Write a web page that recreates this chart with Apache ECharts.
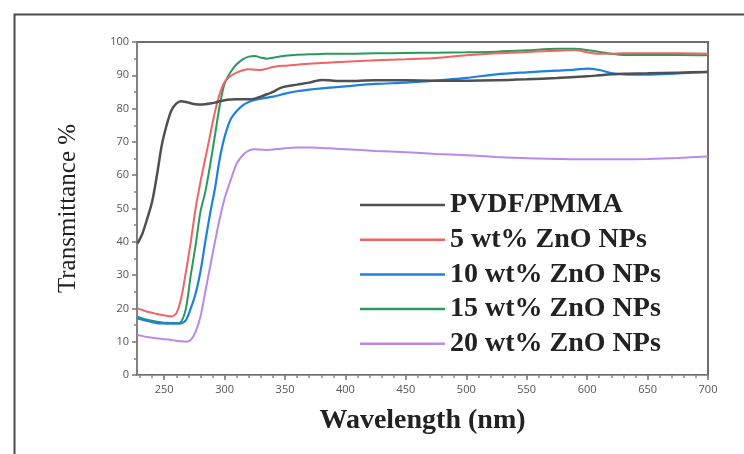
<!DOCTYPE html>
<html>
<head>
<meta charset="utf-8">
<script src="https://cdn.jsdelivr.net/npm/echarts@6/dist/echarts.min.js"></script>
<style>
html,body{margin:0;padding:0;background:#fff;}
#c{width:744px;height:454px;}
</style>
</head>
<body>
<div id="c"></div>
<script>
var wavelengths = [228,232,236,240,244,248,252,256,260,264,268,272,276,280,284,288,292,296,300,305,310,315,320,325,330,335,340,345,350,360,370,380,390,400,425,450,475,500,525,550,575,590,600,610,620,630,650,675,700];

var pvdfPmma = [39.5,42.5,47,52,60,69,75,79.5,81.5,82.2,82,81.6,81.3,81.2,81.3,81.5,81.8,82.2,82.5,82.7,82.8,82.8,82.8,83,83.6,84.3,85,86,86.6,87.2,87.8,88.6,88.4,88.3,88.5,88.5,88.4,88.4,88.5,88.8,89.2,89.5,89.7,90,90.3,90.5,90.6,90.8,91];

var zno5 = [20,19.5,19,18.7,18.3,18,17.8,17.6,18.5,23,31,40,50,58,65,72,79,84.5,88,89.8,90.8,91.5,91.8,91.7,91.6,92,92.5,92.8,92.9,93.2,93.5,93.7,93.9,94.1,94.5,94.8,95.2,96,96.6,97,97.4,97.6,96.9,96.5,96.5,96.6,96.6,96.6,96.5];

var zno10 = [17,16.6,16.2,15.9,15.6,15.5,15.4,15.4,15.4,15.5,16.5,20,24.5,31,40,48.5,56,65,71.5,76.8,79.3,81,82,82.6,83,83.3,83.6,84,84.5,85.2,85.7,86.1,86.4,86.7,87.4,87.8,88.4,89.2,90.3,90.9,91.4,91.7,92,91.6,90.7,90.3,90.2,90.6,91];

var zno15 = [17.5,17,16.6,16.3,16,15.8,15.7,15.6,15.6,16,20,30,39,49,55,63,72,81,87.5,91,93.3,94.8,95.6,95.8,95.3,95,95.3,95.6,95.9,96.2,96.3,96.4,96.5,96.5,96.6,96.7,96.8,96.9,97.1,97.5,98,98,97.6,97,96.5,96.1,96.1,96.1,96];

var zno20 = [12,11.7,11.4,11.2,11,10.8,10.7,10.5,10.3,10.1,10,10.5,13,17.5,25,32.5,40,47,53,58.5,63.5,66,67.4,67.8,67.7,67.6,67.7,67.9,68.1,68.3,68.3,68.2,68,67.8,67.3,66.9,66.4,66,65.5,65.1,64.9,64.8,64.8,64.8,64.8,64.8,64.9,65.2,65.6];

var seriesNames = ['PVDF/PMMA','5 wt% ZnO NPs','10 wt% ZnO NPs','15 wt% ZnO NPs','20 wt% ZnO NPs'];
var xTickLabels = [250,300,350,400,450,500,550,600,650,700];
var yTickLabels = [0,10,20,30,40,50,60,70,80,90,100];

var xMinor = [];
for (var v = 230; v <= 700; v += 10) xMinor.push(v);

function pairs(ys){ return wavelengths.map(function(x,i){ return [x, ys[i]]; }); }

var colors = ['#505050','#f06464','#1f80e0','#2a9a5c','#b98ae8'];
var widths = [2.5,2,2.2,2,2];
var allData = [pvdfPmma, zno5, zno10, zno15, zno20];

var chart = echarts.init(document.getElementById('c'), null, {renderer:'canvas'});
var tickFont = {fontFamily:'Open Sans', fontSize:11, color:'#555'};

chart.setOption({
  animation:false,
  backgroundColor:'#fff',
  graphic:[{
    type:'rect', left:12, top:12, silent:true,
    shape:{x:0,y:0,width:780,height:500},
    style:{fill:'none', stroke:'#4a4a4a', lineWidth:2}
  }],
  grid:{left:137, right:36, top:42, bottom:79, show:true, borderColor:'#6e6e6e', borderWidth:2, backgroundColor:'transparent'},
  legend:{
    orient:'vertical', left:355, top:185,
    icon:'rect', itemWidth:85, itemHeight:2.5, itemGap:4.7,
    data:seriesNames,
    textStyle:{fontFamily:'Liberation Serif', fontWeight:'bold', fontSize:28, lineHeight:30, color:'#222'}
  },
  xAxis:[{
    type:'value', min:227.5, max:700,
    name:'Wavelength (nm)', nameLocation:'middle', nameGap:32,
    nameTextStyle:{fontFamily:'Liberation Serif', fontWeight:'bold', fontSize:28, color:'#222'},
    axisLine:{show:true, lineStyle:{color:'#999', width:1}},
    axisTick:{show:true, customValues:xTickLabels, length:5, lineStyle:{color:'#777', width:1.5}},
    axisLabel:{customValues:xTickLabels, margin:9, fontFamily:tickFont.fontFamily, fontSize:tickFont.fontSize, color:tickFont.color},
    splitLine:{show:false}
  },{
    type:'value', min:227.5, max:700, position:'bottom',
    axisLine:{show:false},
    axisTick:{show:true, customValues:xMinor, length:3, lineStyle:{color:'#888', width:1.5}},
    axisLabel:{show:false},
    splitLine:{show:false}
  }],
  yAxis:{
    type:'value', min:0, max:100, interval:10,
    name:'Transmittance %', nameLocation:'middle', nameGap:56,
    nameTextStyle:{fontFamily:'Liberation Serif', fontSize:25, color:'#222'},
    axisLine:{show:true, lineStyle:{color:'#888', width:1.5}},
    axisTick:{show:true, length:5, lineStyle:{color:'#777', width:1.5}},
    minorTick:{show:true, splitNumber:2, length:3, lineStyle:{color:'#888', width:1.5}},
    axisLabel:{margin:8, fontFamily:tickFont.fontFamily, fontSize:tickFont.fontSize, color:tickFont.color},
    splitLine:{show:false}
  },
  series: allData.map(function(d,i){
    return {
      name:seriesNames[i], type:'line', xAxisIndex:0, data:pairs(d),
      showSymbol:false, symbol:'none', smooth:0.3,
      lineStyle:{color:colors[i], width:widths[i]},
      itemStyle:{color:colors[i]},
      z: 10 - i
    };
  })
});
</script>
</body>
</html>
